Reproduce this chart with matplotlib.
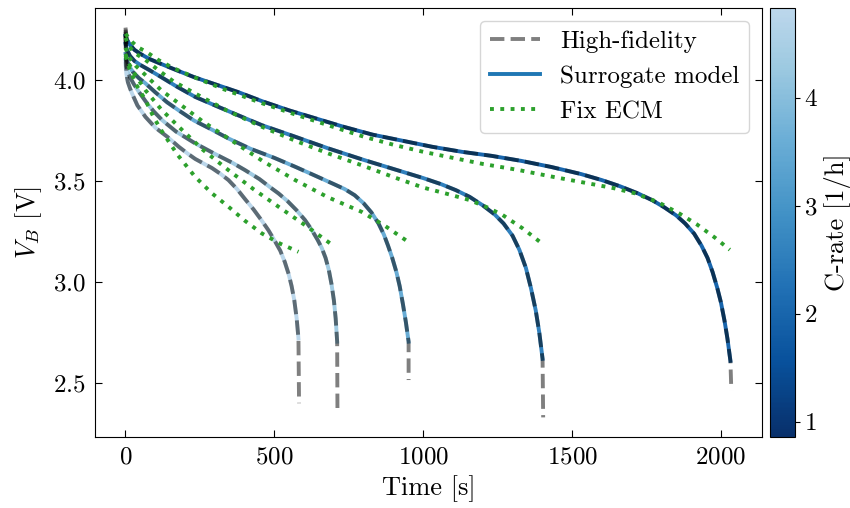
import numpy as np
import matplotlib.pyplot as plt
import matplotlib as mpl
from matplotlib.lines import Line2D

plt.rcParams['font.family'] = 'serif'
plt.rcParams['font.serif'] = ['cmr10']
plt.rcParams['mathtext.fontset'] = 'cm'
plt.rcParams['axes.formatter.use_mathtext'] = True

# C-rates of the five discharges (lowest rate = longest discharge)
c_rates = [2.0, 2.55, 3.55, 4.35, 4.8]
c_min, c_max = 0.86, 4.83

# surrogate model curves (time [s], voltage [V])
t_sur_a = [0, 5, 15, 30, 50, 80, 120, 170, 230, 300, 380, 460, 550, 640, 730, 830, 930, 1030, 1130, 1230,
           1330, 1430, 1530, 1600, 1660, 1720, 1770, 1810, 1850, 1880, 1910, 1935, 1955, 1972, 1988, 2000,
           2012, 2022, 2032]
v_sur_a = [4.22, 4.20, 4.175, 4.15, 4.13, 4.105, 4.08, 4.05, 4.015, 3.98, 3.94, 3.895, 3.85, 3.81, 3.77, 3.73,
           3.70, 3.67, 3.645, 3.625, 3.60, 3.57, 3.535, 3.505, 3.475, 3.44, 3.405, 3.37, 3.33, 3.29, 3.24, 3.18,
           3.12, 3.05, 2.97, 2.90, 2.81, 2.72, 2.61]
t_sur_b = [0, 5, 15, 30, 50, 80, 120, 170, 234, 300, 380, 458, 560, 681, 800, 900, 1000, 1060, 1110, 1156,
           1200, 1240, 1270, 1300, 1323, 1345, 1362, 1378, 1390, 1401]
v_sur_b = [4.18, 4.15, 4.12, 4.095, 4.075, 4.05, 4.015, 3.97, 3.917, 3.875, 3.825, 3.777, 3.725, 3.662, 3.605,
           3.56, 3.515, 3.485, 3.455, 3.422, 3.38, 3.335, 3.29, 3.23, 3.16, 3.07, 2.97, 2.86, 2.75, 2.62]
t_sur_c = [0, 4, 12, 25, 45, 67, 100, 140, 179, 230, 290, 346, 420, 500, 570, 640, 700, 737, 770, 800, 826,
           850, 868, 882, 896, 910, 921, 932, 942, 951]
v_sur_c = [4.13, 4.10, 4.07, 4.04, 4.01, 3.984, 3.94, 3.89, 3.85, 3.80, 3.755, 3.711, 3.66, 3.615, 3.571, 3.525,
           3.485, 3.46, 3.43, 3.39, 3.345, 3.29, 3.235, 3.18, 3.12, 3.05, 2.98, 2.89, 2.80, 2.705]
t_sur_d = [0, 3, 8, 15, 28, 45, 70, 95, 123, 170, 234, 300, 360, 402, 450, 490, 514, 545, 575, 603, 625, 645,
           659, 672, 683, 692, 700, 706, 711]
v_sur_d = [4.10, 4.07, 4.04, 4.015, 3.98, 3.942, 3.89, 3.845, 3.802, 3.745, 3.687, 3.635, 3.59, 3.554, 3.51,
           3.465, 3.439, 3.40, 3.355, 3.307, 3.26, 3.21, 3.17, 3.12, 3.06, 2.99, 2.91, 2.82, 2.705]
t_sur_e = [0, 3, 8, 15, 22, 40, 67, 100, 140, 179, 210, 234, 265, 290, 320, 346, 375, 402, 430, 455, 480, 503,
           520, 535, 548, 558, 567, 575, 581]
v_sur_e = [4.08, 4.03, 3.99, 3.96, 3.934, 3.875, 3.818, 3.765, 3.72, 3.67, 3.635, 3.61, 3.585, 3.565, 3.535,
           3.505, 3.46, 3.41, 3.36, 3.31, 3.257, 3.20, 3.155, 3.10, 3.04, 2.98, 2.91, 2.82, 2.721]

# high-fidelity: start voltage and end of discharge (beyond the surrogate)
v_hf_start = [4.26, 4.25, 4.24, 4.23, 4.22]
t_hf_end = [2035, 1403, 951, 712, 583]
v_hf_end = [2.465, 2.33, 2.515, 2.366, 2.40]

# fixed equivalent circuit model
t_ecm_a = [0, 10, 25, 45, 70, 110, 160, 230, 330, 460, 570, 680, 800, 900, 1000, 1100, 1200, 1320, 1440, 1550,
           1640, 1710, 1790, 1860, 1920, 1980, 2030]
v_ecm_a = [4.23, 4.21, 4.185, 4.16, 4.14, 4.10, 4.06, 4.015, 3.955, 3.885, 3.83, 3.777, 3.72, 3.68, 3.645, 3.615,
           3.585, 3.555, 3.52, 3.49, 3.465, 3.44, 3.395, 3.34, 3.285, 3.22, 3.16]
t_ecm_b = [0, 11, 30, 67, 110, 160, 234, 340, 458, 570, 681, 800, 900, 1000, 1080, 1156, 1215, 1267, 1335, 1400]
v_ecm_b = [4.21, 4.17, 4.135, 4.10, 4.05, 3.995, 3.934, 3.85, 3.769, 3.70, 3.637, 3.575, 3.52, 3.468, 3.437,
           3.406, 3.37, 3.332, 3.265, 3.19]
t_ecm_c = [0, 11, 35, 67, 120, 179, 260, 346, 460, 570, 680, 793, 870, 944]
v_ecm_c = [4.16, 4.115, 4.07, 4.025, 3.95, 3.885, 3.795, 3.711, 3.60, 3.505, 3.42, 3.348, 3.28, 3.205]
t_ecm_d = [0, 11, 35, 67, 120, 179, 260, 346, 430, 514, 610, 703]
v_ecm_d = [4.13, 4.083, 4.02, 3.95, 3.855, 3.769, 3.655, 3.554, 3.46, 3.373, 3.275, 3.175]
t_ecm_e = [0, 11, 35, 67, 95, 123, 175, 234, 290, 346, 400, 458, 520, 581]
v_ecm_e = [4.12, 4.066, 3.98, 3.901, 3.815, 3.745, 3.63, 3.521, 3.44, 3.373, 3.305, 3.241, 3.19, 3.15]

sur = [(t_sur_a, v_sur_a), (t_sur_b, v_sur_b), (t_sur_c, v_sur_c), (t_sur_d, v_sur_d), (t_sur_e, v_sur_e)]
ecm = [(t_ecm_a, v_ecm_a), (t_ecm_b, v_ecm_b), (t_ecm_c, v_ecm_c), (t_ecm_d, v_ecm_d), (t_ecm_e, v_ecm_e)]

# Blues_r cut before it turns white
cmap = mpl.colors.ListedColormap(plt.get_cmap('Blues_r')(np.linspace(0, 0.72, 256)))
norm = mpl.colors.Normalize(vmin=c_min, vmax=c_max)

fig = plt.figure(figsize=(8.5, 5.08), dpi=100)
ax = fig.add_axes([0.112, 0.140, 0.784, 0.844])
cax = fig.add_axes([0.906, 0.140, 0.029, 0.844])

for i, c in enumerate(c_rates):
    t_s, v_s = sur[i]
    ax.plot(t_s, v_s, color=cmap(norm(c)), lw=2.8, zorder=2)
    t_h = list(t_s) + [t_hf_end[i]]
    v_h = [v_hf_start[i]] + list(v_s[1:]) + [v_hf_end[i]]
    ax.plot(t_h, v_h, color='k', alpha=0.5, ls='--', lw=2.8, zorder=3)
    t_e, v_e = ecm[i]
    ax.plot(t_e, v_e, color='tab:green', ls=':', lw=2.8, zorder=4)

ax.set_xlabel('Time [s]', fontsize=19, labelpad=5)
ax.set_ylabel('$V_B$ [V]', fontsize=19, labelpad=6)
ax.set_xticks([0, 500, 1000, 1500, 2000])
ax.set_yticks([2.5, 3.0, 3.5, 4.0])
ax.tick_params(direction='in', top=True, right=True, labelsize=18, length=5, pad=7)

handles = [Line2D([], [], color='k', alpha=0.5, ls='--', lw=2.8),
           Line2D([], [], color='tab:blue', lw=2.8),
           Line2D([], [], color='tab:green', ls=':', lw=2.8)]
ax.legend(handles, ['High-fidelity', 'Surrogate model', 'Fix ECM'],
          loc='upper right', fontsize=18)

sm = mpl.cm.ScalarMappable(norm=norm, cmap=cmap)
cbar = fig.colorbar(sm, cax=cax)
cbar.set_ticks([1, 2, 3, 4])
cbar.ax.tick_params(labelsize=18)
cbar.set_label('C-rate [1/h]', fontsize=19)

fig.savefig('out.png', dpi=100)
